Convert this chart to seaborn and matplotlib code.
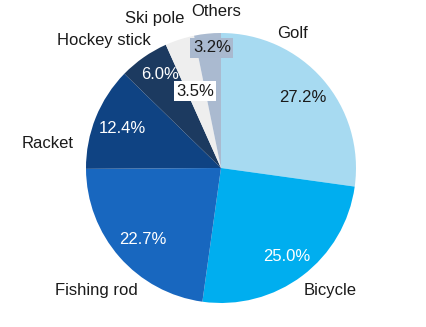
import matplotlib
matplotlib.use("Agg")
import matplotlib.pyplot as plt
import seaborn as sns

categories = ["Golf", "Bicycle", "Fishing rod", "Racket", "Hockey stick", "Ski pole", "Others"]
shares = [27.2, 25.0, 22.7, 12.4, 6.0, 3.5, 3.2]
pct_labels = ["27.2%", "25.0%", "22.7%", "12.4%", "6.0%", "3.5%", "3.2%"]

colors = sns.color_palette(["#a7daf1", "#00aeef", "#1867bf", "#0f4383", "#1c3a60", "#eeeeee", "#aabad0"])
pct_colors = ["#1a1a1a", "white", "white", "white", "white", "#1a1a1a", "#1a1a1a"]
pct_boxes = [None, None, None, None, None, "white", "#a9b9cf"]

# text positions (data units relative to pie of radius 1)
name_pos = [(0.533, 1.000), (0.807, -0.911), (-0.926, -0.904), (-1.281, 0.185),
            (-0.867, 0.948), (-0.489, 1.104), (-0.037, 1.156)]
pct_pos = [(0.607, 0.519), (0.489, -0.652), (-0.578, -0.533), (-0.733, 0.289),
           (-0.452, 0.693), (-0.193, 0.570), (-0.067, 0.889)]

sns.set_theme(style="white")
plt.rcParams['font.family'] = ['Liberation Sans', 'DejaVu Sans']

fig = plt.figure(figsize=(4.27, 3.27), dpi=100)
ax = fig.add_axes([0.2014, 0.0734, 0.6323, 0.8257])
ax.pie(shares, colors=colors, startangle=90, counterclock=False,
       wedgeprops=dict(linewidth=0))
ax.set_xlim(-1, 1)
ax.set_ylim(-1, 1)
ax.set_aspect("equal")
ax.axis("off")

for name, (x, y) in zip(categories, name_pos):
    ax.text(x, y, name, ha="center", va="center", fontsize=12, color="#1a1a1a", clip_on=False)

for lab, (x, y), c, b in zip(pct_labels, pct_pos, pct_colors, pct_boxes):
    kw = {}
    if b is not None:
        kw["bbox"] = dict(boxstyle="square,pad=0.15", facecolor=b, edgecolor="none")
    ax.text(x, y, lab, ha="center", va="center", fontsize=12, color=c, clip_on=False, **kw)

fig.savefig("out.png", dpi=100)
